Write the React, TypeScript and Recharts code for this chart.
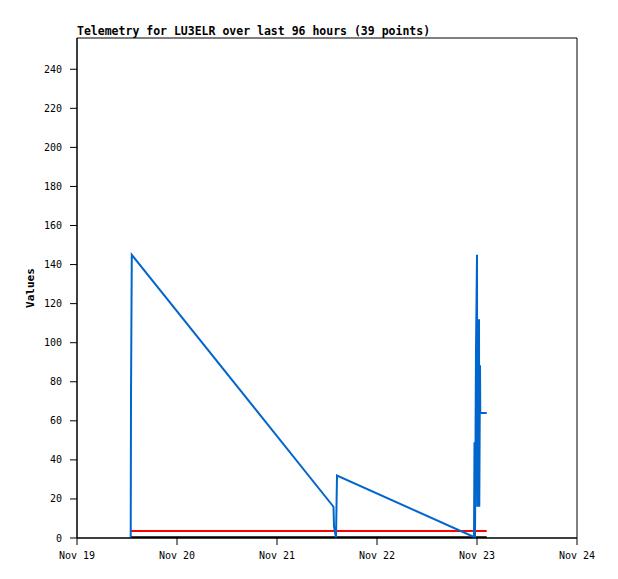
import { LineChart, Line, XAxis, YAxis, ReferenceArea } from "recharts";

// hours since Nov 19 00:00
const BLUE_HOURS = [
  12.89, 12.96, 13.15, 61.56, 61.68, 62.16, 62.4,
  95.28, 95.4, 95.52, 95.76, 96.0, 96.07, 96.48, 96.55, 96.72, 96.79, 98.33,
];
const BLUE_VALUES = [
  0, 72.5, 145, 16, 6, 0, 32,
  0.5, 49, 0, 97, 145, 16, 112, 16, 88.5, 64, 64,
];
const LIMIT_HOURS = [12.89, 98.33];
const RED_VALUES = [3.6, 3.6];
const BLACK_VALUES = [0.4, 0.4];

const X_TICKS = [0, 24, 48, 72, 96, 120];
const X_LABELS = ["Nov 19", "Nov 20", "Nov 21", "Nov 22", "Nov 23", "Nov 24"];
const Y_TICKS = [0, 20, 40, 60, 80, 100, 120, 140, 160, 180, 200, 220, 240];

const TITLE = "Telemetry for LU3ELR over last 96 hours (39 points)";
const FONT = '"DejaVu Sans Mono", "Liberation Mono", monospace';
const TICK = { fill: "#000", fontSize: 10, fontFamily: FONT };

const blue = BLUE_HOURS.map((h, i) => ({ h, v: BLUE_VALUES[i] }));
const red = LIMIT_HOURS.map((h, i) => ({ h, v: RED_VALUES[i] }));
const black = LIMIT_HOURS.map((h, i) => ({ h, v: BLACK_VALUES[i] }));

export default function App() {
  return (
    <div style={{ position: "absolute", left: 0, top: 0, width: 618, height: 579, background: "#fff" }}>
      <div style={{
        position: "absolute", left: 77, top: 25, fontFamily: FONT, fontWeight: "bold",
        fontSize: 11.5, lineHeight: "12px", whiteSpace: "pre", color: "#000",
      }}>
        {TITLE}
      </div>
      <div style={{
        position: "absolute", left: 1, top: 282, width: 60, height: 12, lineHeight: "12px",
        textAlign: "center", fontFamily: FONT, fontWeight: "bold", fontSize: 11,
        transform: "rotate(-90deg)", color: "#000",
      }}>
        Values
      </div>
      <LineChart width={618} height={579} margin={{ top: 38, right: 41, left: 0, bottom: 0 }}>
        <XAxis
          type="number" dataKey="h" domain={[0, 120]} ticks={X_TICKS} interval={0}
          allowDataOverflow height={41} tickSize={7} tickMargin={7}
          stroke="#000" tick={TICK}
          tickFormatter={(v: number) => X_LABELS[X_TICKS.indexOf(v)]}
        />
        <YAxis
          type="number" dataKey="v" domain={[0, 256]} ticks={Y_TICKS} interval={0}
          allowDataOverflow width={77} tickSize={7} tickMargin={8}
          stroke="#000" tick={TICK}
        />
        <ReferenceArea x1={0} x2={120} y1={0} y2={256} fill="none" stroke="#000" strokeOpacity={1} />
        <Line data={black} dataKey="v" stroke="#000" strokeWidth={2} dot={false}
          isAnimationActive={false} type="linear" />
        <Line data={red} dataKey="v" stroke="#ff0000" strokeWidth={2} dot={false}
          isAnimationActive={false} type="linear" />
        <Line data={blue} dataKey="v" stroke="#0066cc" strokeWidth={2} dot={false}
          isAnimationActive={false} type="linear" strokeLinejoin="miter" />
      </LineChart>
    </div>
  );
}
